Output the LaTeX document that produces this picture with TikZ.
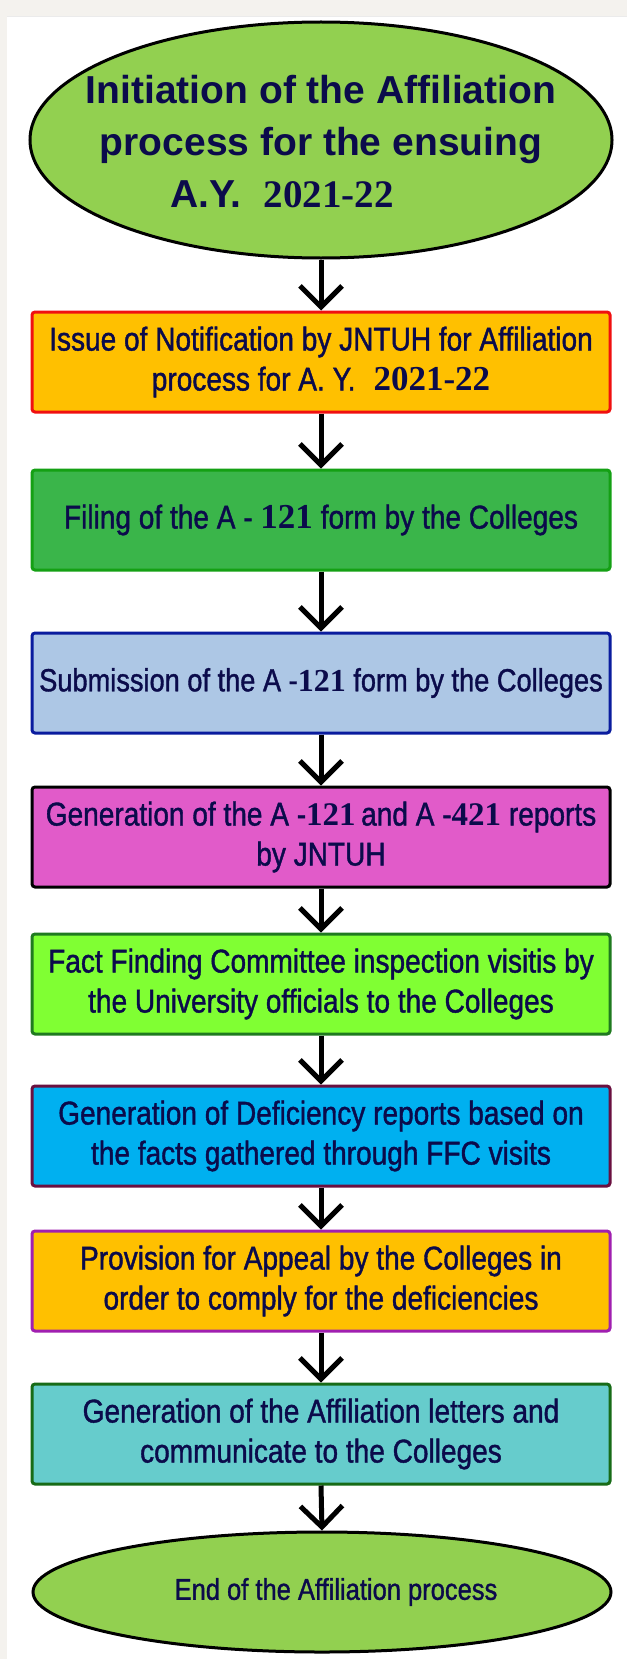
\documentclass[tikz,border=0pt]{standalone}
\usepackage{fontspec}
\setmainfont{Liberation Sans}
\newfontfamily\narrowfont[FakeStretch=0.85,FakeBold=1.2]{Liberation Sans}
\newfontfamily\numfont{Liberation Serif}
\usetikzlibrary{shapes.geometric,arrows.meta}
\definecolor{bgbeige}{HTML}{F4F2EE}
\definecolor{txt}{HTML}{0B0B4B}
\definecolor{ovalgreen}{HTML}{92D050}
\definecolor{orangefill}{HTML}{FFC000}
\definecolor{redline}{HTML}{F01010}
\definecolor{greenfill}{HTML}{3AB54A}
\definecolor{greenline}{HTML}{14A014}
\definecolor{bluefill}{HTML}{ADC7E5}
\definecolor{blueline}{HTML}{0A1C9E}
\definecolor{pinkfill}{HTML}{E15BC9}
\definecolor{limefill}{HTML}{80FF33}
\definecolor{limeline}{HTML}{1F7A1F}
\definecolor{cyanfill}{HTML}{00B0F0}
\definecolor{maroonline}{HTML}{6A1040}
\definecolor{purpleline}{HTML}{A01FB0}
\definecolor{tealfill}{HTML}{66CCCC}
\definecolor{tealline}{HTML}{176B17}
\newcommand\numb[1]{{\numfont\bfseries #1}}
\begin{document}
\begin{tikzpicture}[x=1pt,y=-1pt,
  stepbox/.style={rectangle, rounded corners=3pt, line width=3pt,
    minimum width=578pt, minimum height=100pt, inner sep=0pt, align=center,
    text=txt, font=\narrowfont\fontsize{33}{40}\selectfont},
  oval/.style={ellipse, draw=black, line width=3pt, fill=ovalgreen, inner sep=0pt},
  flow/.style={line width=5pt, -{Straight Barb[length=21pt,width=42pt]}}]
\useasboundingbox (0,0) rectangle (627,1659);
\fill[bgbeige] (0,0) rectangle (627,1659);
\fill[white] (7,16) rectangle (627,1659);
\draw[line width=1pt, black!8] (7,16.5) -- (627,16.5);

\node[oval, minimum width=582pt, minimum height=236pt] (start) at (321,140) {};
\node[text=txt, align=center, font=\bfseries\fontsize{39}{52}\selectfont] (starttext) at (321,142)
  {Initiation of the Affiliation\\process for the ensuing\\A.Y.\hspace{22pt}\numb{2021-22}\hspace*{78pt}\null};

\node[stepbox, fill=orangefill, draw=redline] (b1) at (321,362)
  {Issue of Notification by JNTUH for Affiliation\\process for A. Y.\hspace{18pt}{\fontsize{35}{40}\selectfont\numb{2021-22}}};
\node[stepbox, fill=greenfill, draw=greenline] (b2) at (321,520)
  {Filing of the A - {\fontsize{35}{40}\selectfont\numb{121}} form by the Colleges};
\node[stepbox, fill=bluefill, draw=blueline] (b3) at (321,683)
  {\fontsize{32}{40}\selectfont Submission of the A -\numb{121} form by the Colleges};
\node[stepbox, fill=pinkfill, draw=black] (b4) at (321,837)
  {Generation of the A -\numb{121}\,and A -\numb{421} reports\\by JNTUH};
\node[stepbox, fill=limefill, draw=limeline] (b5) at (321,984)
  {Fact Finding Committee inspection visitis by\\the University officials to the Colleges};
\node[stepbox, fill=cyanfill, draw=maroonline] (b6) at (321,1136)
  {Generation of Deficiency reports based on\\the facts gathered through FFC visits};
\node[stepbox, fill=orangefill, draw=purpleline] (b7) at (321,1281)
  {Provision for Appeal by the Colleges in\\order to comply for the deficiencies};
\node[stepbox, fill=tealfill, draw=tealline] (b8) at (321,1434)
  {Generation of the Affiliation letters and\\communicate to the Colleges};

\node[oval, minimum width=578pt, minimum height=120pt] (end) at (322,1592) {};
\node[text=txt, font=\narrowfont\fontsize{30}{34}\selectfont] (endtext) at (336,1592)
  {End of the Affiliation process};

\draw[flow] (start.south) -- (b1.north);
\draw[flow] (b1.south) -- (b2.north);
\draw[flow] (b2.south) -- (b3.north);
\draw[flow] (b3.south) -- (b4.north);
\draw[flow] (b4.south) -- (b5.north);
\draw[flow] (b5.south) -- (b6.north);
\draw[flow] (b6.south) -- (b7.north);
\draw[flow] (b7.south) -- (b8.north);
\draw[flow] (b8.south) -- (end.north);
\end{tikzpicture}
\end{document}
